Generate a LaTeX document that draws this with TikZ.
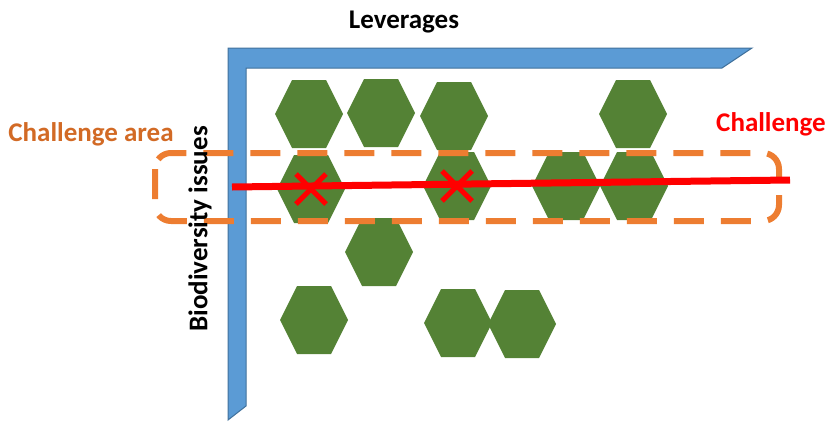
\documentclass[tikz,border=0pt]{standalone}
\usepackage{fontspec}
\setmainfont{Carlito}
\usepackage{xcolor}
\usepackage{tikz}

\definecolor{barblue}{HTML}{5B9BD5}
\definecolor{barline}{HTML}{41719C}
\definecolor{hexgreen}{HTML}{548235}
\definecolor{areaorange}{HTML}{ED7D31}
\definecolor{areatext}{HTML}{D26A25}

\tikzset{
	hexcell/.style={fill=hexgreen},
	cross/.style={red, line width=5pt},
	label/.style={font=\bfseries\fontsize{27}{32}\selectfont, inner sep=0pt}
}

\begin{document}
\begin{tikzpicture}[x=1pt, y=-1pt]
	\useasboundingbox (0,0) rectangle (836,426);
	
	% axes
	\filldraw[fill=barblue, draw=barline, line width=1pt]
		(228,420) -- (228,48) -- (752,48) -- (722,68) -- (246,68) -- (246,406) -- cycle;
	
	% cells
	\foreach \hx/\hy [count=\i] in {309/114, 381/113, 454/116, 633/114,
		311/189, 457/186, 566/186, 634/186,
		379/252, 314/320, 458/323, 522/324} {
		\coordinate (hex\i) at (\hx,\hy);
		\fill[hexcell] (hex\i) +(-34,0) -- +(-17,-34) -- +(17,-34) -- +(34,0) -- +(17,34) -- +(-17,34) -- cycle;
	}
	
	% challenge area
	\draw[areaorange, line width=6pt, dash pattern=on 30pt off 17pt, rounded corners=16pt]
		(155,153) rectangle (779,221);
	
	% challenge
	\coordinate (chstart) at (232,187);
	\coordinate (chend) at (790,180);
	\draw[red, line width=7pt] (chstart) -- (chend);
	
	\foreach \c in {hex5, hex6} {
		\draw[cross] (\c) +(-15,-15) -- +(15,15);
		\draw[cross] (\c) +(-15,15) -- +(15,-15);
	}
	
	\node[label] (lev) at (404,22) {Leverages};
	\node[label, text=areatext] (area) at (91,134) {Challenge area};
	\node[label, text=red] (chal) at (771,124) {Challenge};
	\node[label, rotate=90] (bio) at (200,229) {Biodiversity issues};
\end{tikzpicture}
\end{document}
